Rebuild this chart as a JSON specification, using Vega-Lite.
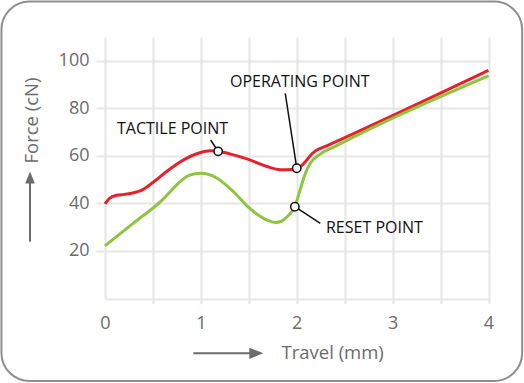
{
  "$schema": "https://vega.github.io/schema/vega-lite/v6.json",
  "width": 383.5,
  "height": 261.5,
  "autosize": {"type": "none"},
  "padding": {"left": 105, "top": 37, "right": 35.5, "bottom": 84.5},
  "background": "white",
  "config": {
    "view": {"stroke": null},
    "font": "Open Sans"
  },
  "datasets": {
    "frame": [{"x": -1.08, "x2": 4.351, "y": 124.93, "y2": -34.7}],
    "curves": [
      {"travel": 0.0, "force": 39.8, "series": "press"},
      {"travel": 0.05, "force": 42.2, "series": "press"},
      {"travel": 0.12, "force": 43.4, "series": "press"},
      {"travel": 0.2, "force": 43.8, "series": "press"},
      {"travel": 0.3, "force": 44.5, "series": "press"},
      {"travel": 0.38, "force": 45.5, "series": "press"},
      {"travel": 0.5, "force": 48.8, "series": "press"},
      {"travel": 0.64, "force": 53.3, "series": "press"},
      {"travel": 0.82, "force": 58.3, "series": "press"},
      {"travel": 0.99, "force": 61.3, "series": "press"},
      {"travel": 1.1, "force": 62.1, "series": "press"},
      {"travel": 1.18, "force": 61.9, "series": "press"},
      {"travel": 1.34, "force": 60.4, "series": "press"},
      {"travel": 1.51, "force": 58.3, "series": "press"},
      {"travel": 1.69, "force": 55.5, "series": "press"},
      {"travel": 1.83, "force": 54.2, "series": "press"},
      {"travel": 1.95, "force": 54.3, "series": "press"},
      {"travel": 2.0, "force": 54.8, "series": "press"},
      {"travel": 2.05, "force": 55.9, "series": "press"},
      {"travel": 2.1, "force": 58.0, "series": "press"},
      {"travel": 2.15, "force": 60.5, "series": "press"},
      {"travel": 2.2, "force": 62.2, "series": "press"},
      {"travel": 2.3, "force": 64.0, "series": "press"},
      {"travel": 4.0, "force": 96.0, "series": "press"},
      {"travel": 0.0, "force": 22.2, "series": "release"},
      {"travel": 0.3, "force": 31.8, "series": "release"},
      {"travel": 0.59, "force": 41.2, "series": "release"},
      {"travel": 0.68, "force": 44.9, "series": "release"},
      {"travel": 0.78, "force": 49.1, "series": "release"},
      {"travel": 0.89, "force": 52.0, "series": "release"},
      {"travel": 0.99, "force": 52.7, "series": "release"},
      {"travel": 1.08, "force": 52.2, "series": "release"},
      {"travel": 1.17, "force": 50.6, "series": "release"},
      {"travel": 1.34, "force": 44.9, "series": "release"},
      {"travel": 1.51, "force": 37.9, "series": "release"},
      {"travel": 1.69, "force": 33.0, "series": "release"},
      {"travel": 1.78, "force": 32.0, "series": "release"},
      {"travel": 1.84, "force": 32.5, "series": "release"},
      {"travel": 1.9, "force": 34.4, "series": "release"},
      {"travel": 1.98, "force": 38.6, "series": "release"},
      {"travel": 2.04, "force": 46.4, "series": "release"},
      {"travel": 2.09, "force": 52.7, "series": "release"},
      {"travel": 2.14, "force": 56.8, "series": "release"},
      {"travel": 2.24, "force": 60.6, "series": "release"},
      {"travel": 2.4, "force": 64.0, "series": "release"},
      {"travel": 4.0, "force": 93.7, "series": "release"}
    ],
    "leaders": [
      {"x": 1.102, "y": 66.67, "x2": 1.18, "y2": 61.9},
      {"x": 1.88, "y": 86.3, "x2": 2.0, "y2": 54.8},
      {"x": 2.246, "y": 31.6, "x2": 1.98, "y2": 38.6}
    ],
    "points": [
      {"travel": 1.18, "force": 61.9, "name": "tactile"},
      {"travel": 2.0, "force": 54.8, "name": "operating"},
      {"travel": 1.98, "force": 38.6, "name": "reset"}
    ],
    "labels": [
      {"travel": 0.125, "force": 69.07, "text": "TACTILE POINT"},
      {"travel": 1.304, "force": 88.84, "text": "OPERATING POINT"},
      {"travel": 2.305, "force": 27.7, "text": "RESET POINT"}
    ],
    "arrowLines": [
      {"x": 0.921, "x2": 1.6, "y": -23.05, "y2": -23.05},
      {"x": -0.782, "x2": -0.782, "y": 23.9, "y2": 50.0}
    ],
    "arrowHeads": [
      {"x": 1.578, "y": -23.05, "dir": "right"},
      {"x": -0.782, "y": 50.9, "dir": "up"}
    ]
  },
  "layer": [
    {
      "data": {"name": "curves"},
      "mark": {"type": "line", "interpolate": "monotone", "strokeWidth": 3},
      "encoding": {
        "x": {
          "field": "travel", "type": "quantitative",
          "scale": {"domain": [0, 4], "nice": false, "zero": false},
          "axis": {
            "values": [0, 0.5, 1, 1.5, 2, 2.5, 3, 3.5, 4],
            "labelExpr": "datum.value % 1 === 0 ? '' + datum.value : ''",
            "grid": true, "gridColor": "#e6e6e6", "gridWidth": 2,
            "domain": false,
            "tickColor": "#e6e6e6", "tickWidth": 2, "tickSize": 5,
            "tickOpacity": {"condition": {"test": "datum.value === 0", "value": 0}, "value": 1},
            "labelFont": "Open Sans", "labelFontSize": 18, "labelColor": "#6b6b6b", "labelPadding": 11,
            "labelFlush": false,
            "title": "Travel (mm)", "titleFont": "Open Sans", "titleFontSize": 18.5, "titleFontWeight": "normal",
            "titleColor": "#6b6b6b", "titleX": 176, "titleY": 59.5, "titleAlign": "left", "titleBaseline": "alphabetic"
          }
        },
        "y": {
          "field": "force", "type": "quantitative",
          "scale": {"domain": [0, 110], "nice": false, "zero": false},
          "axis": {
            "values": [0, 20, 40, 60, 80, 100],
            "labelExpr": "datum.value === 0 ? '' : datum.label",
            "grid": true, "gridColor": "#e6e6e6", "gridWidth": 2,
            "domain": false,
            "tickColor": "#e6e6e6", "tickWidth": 2, "tickSize": 9,
            "tickOpacity": {"condition": {"test": "datum.value === 0", "value": 0}, "value": 1},
            "labelFont": "Open Sans", "labelFontSize": 18, "labelColor": "#6b6b6b", "labelPadding": 7,
            "labelFlush": false,
            "title": "Force (cN)", "titleFont": "Open Sans", "titleFontSize": 18.5, "titleFontWeight": "normal",
            "titleColor": "#6b6b6b", "titleX": -67.3, "titleY": 126, "titleAngle": -90, "titleAlign": "left", "titleBaseline": "alphabetic"
          }
        },
        "color": {
          "field": "series", "type": "nominal",
          "scale": {"domain": ["press", "release"], "range": ["#e8202a", "#8cc63f"]},
          "legend": null
        },
        "order": {"field": "travel", "type": "quantitative"}
      }
    },
    {
      "data": {"name": "frame"},
      "mark": {"type": "rect", "cornerRadius": 28, "fill": "transparent", "stroke": "#8f8f8f", "strokeWidth": 2},
      "encoding": {
        "x": {"field": "x", "type": "quantitative"},
        "x2": {"field": "x2"},
        "y": {"field": "y", "type": "quantitative"},
        "y2": {"field": "y2"}
      }
    },
    {
      "data": {"name": "leaders"},
      "mark": {"type": "rule", "color": "#111111", "strokeWidth": 1.5},
      "encoding": {
        "x": {"field": "x", "type": "quantitative"},
        "x2": {"field": "x2"},
        "y": {"field": "y", "type": "quantitative"},
        "y2": {"field": "y2"}
      }
    },
    {
      "data": {"name": "points"},
      "mark": {"type": "point", "filled": false, "fill": "white", "fillOpacity": 1, "stroke": "#111111", "strokeWidth": 1.5, "size": 70, "opacity": 1},
      "encoding": {
        "x": {"field": "travel", "type": "quantitative"},
        "y": {"field": "force", "type": "quantitative"}
      }
    },
    {
      "data": {"name": "labels"},
      "mark": {"type": "text", "align": "left", "baseline": "alphabetic", "font": "Open Sans", "fontSize": 16, "color": "#111111"},
      "encoding": {
        "x": {"field": "travel", "type": "quantitative"},
        "y": {"field": "force", "type": "quantitative"},
        "text": {"field": "text"}
      }
    },
    {
      "data": {"name": "arrowLines"},
      "mark": {"type": "rule", "color": "#6b6b6b", "strokeWidth": 2},
      "encoding": {
        "x": {"field": "x", "type": "quantitative"},
        "x2": {"field": "x2"},
        "y": {"field": "y", "type": "quantitative"},
        "y2": {"field": "y2"}
      }
    },
    {
      "data": {"name": "arrowHeads"},
      "mark": {"type": "point", "filled": true, "color": "#6b6b6b", "opacity": 1},
      "encoding": {
        "x": {"field": "x", "type": "quantitative"},
        "y": {"field": "y", "type": "quantitative"},
        "shape": {
          "field": "dir", "type": "nominal",
          "scale": {"domain": ["right", "up"], "range": ["M-1,-0.8L1,0L-1,0.8Z", "M-0.8,1L0,-1L0.8,1Z"]},
          "legend": null
        },
        "size": {
          "field": "dir", "type": "nominal",
          "scale": {"domain": ["right", "up"], "range": [196, 144]},
          "legend": null
        }
      }
    }
  ]
}
